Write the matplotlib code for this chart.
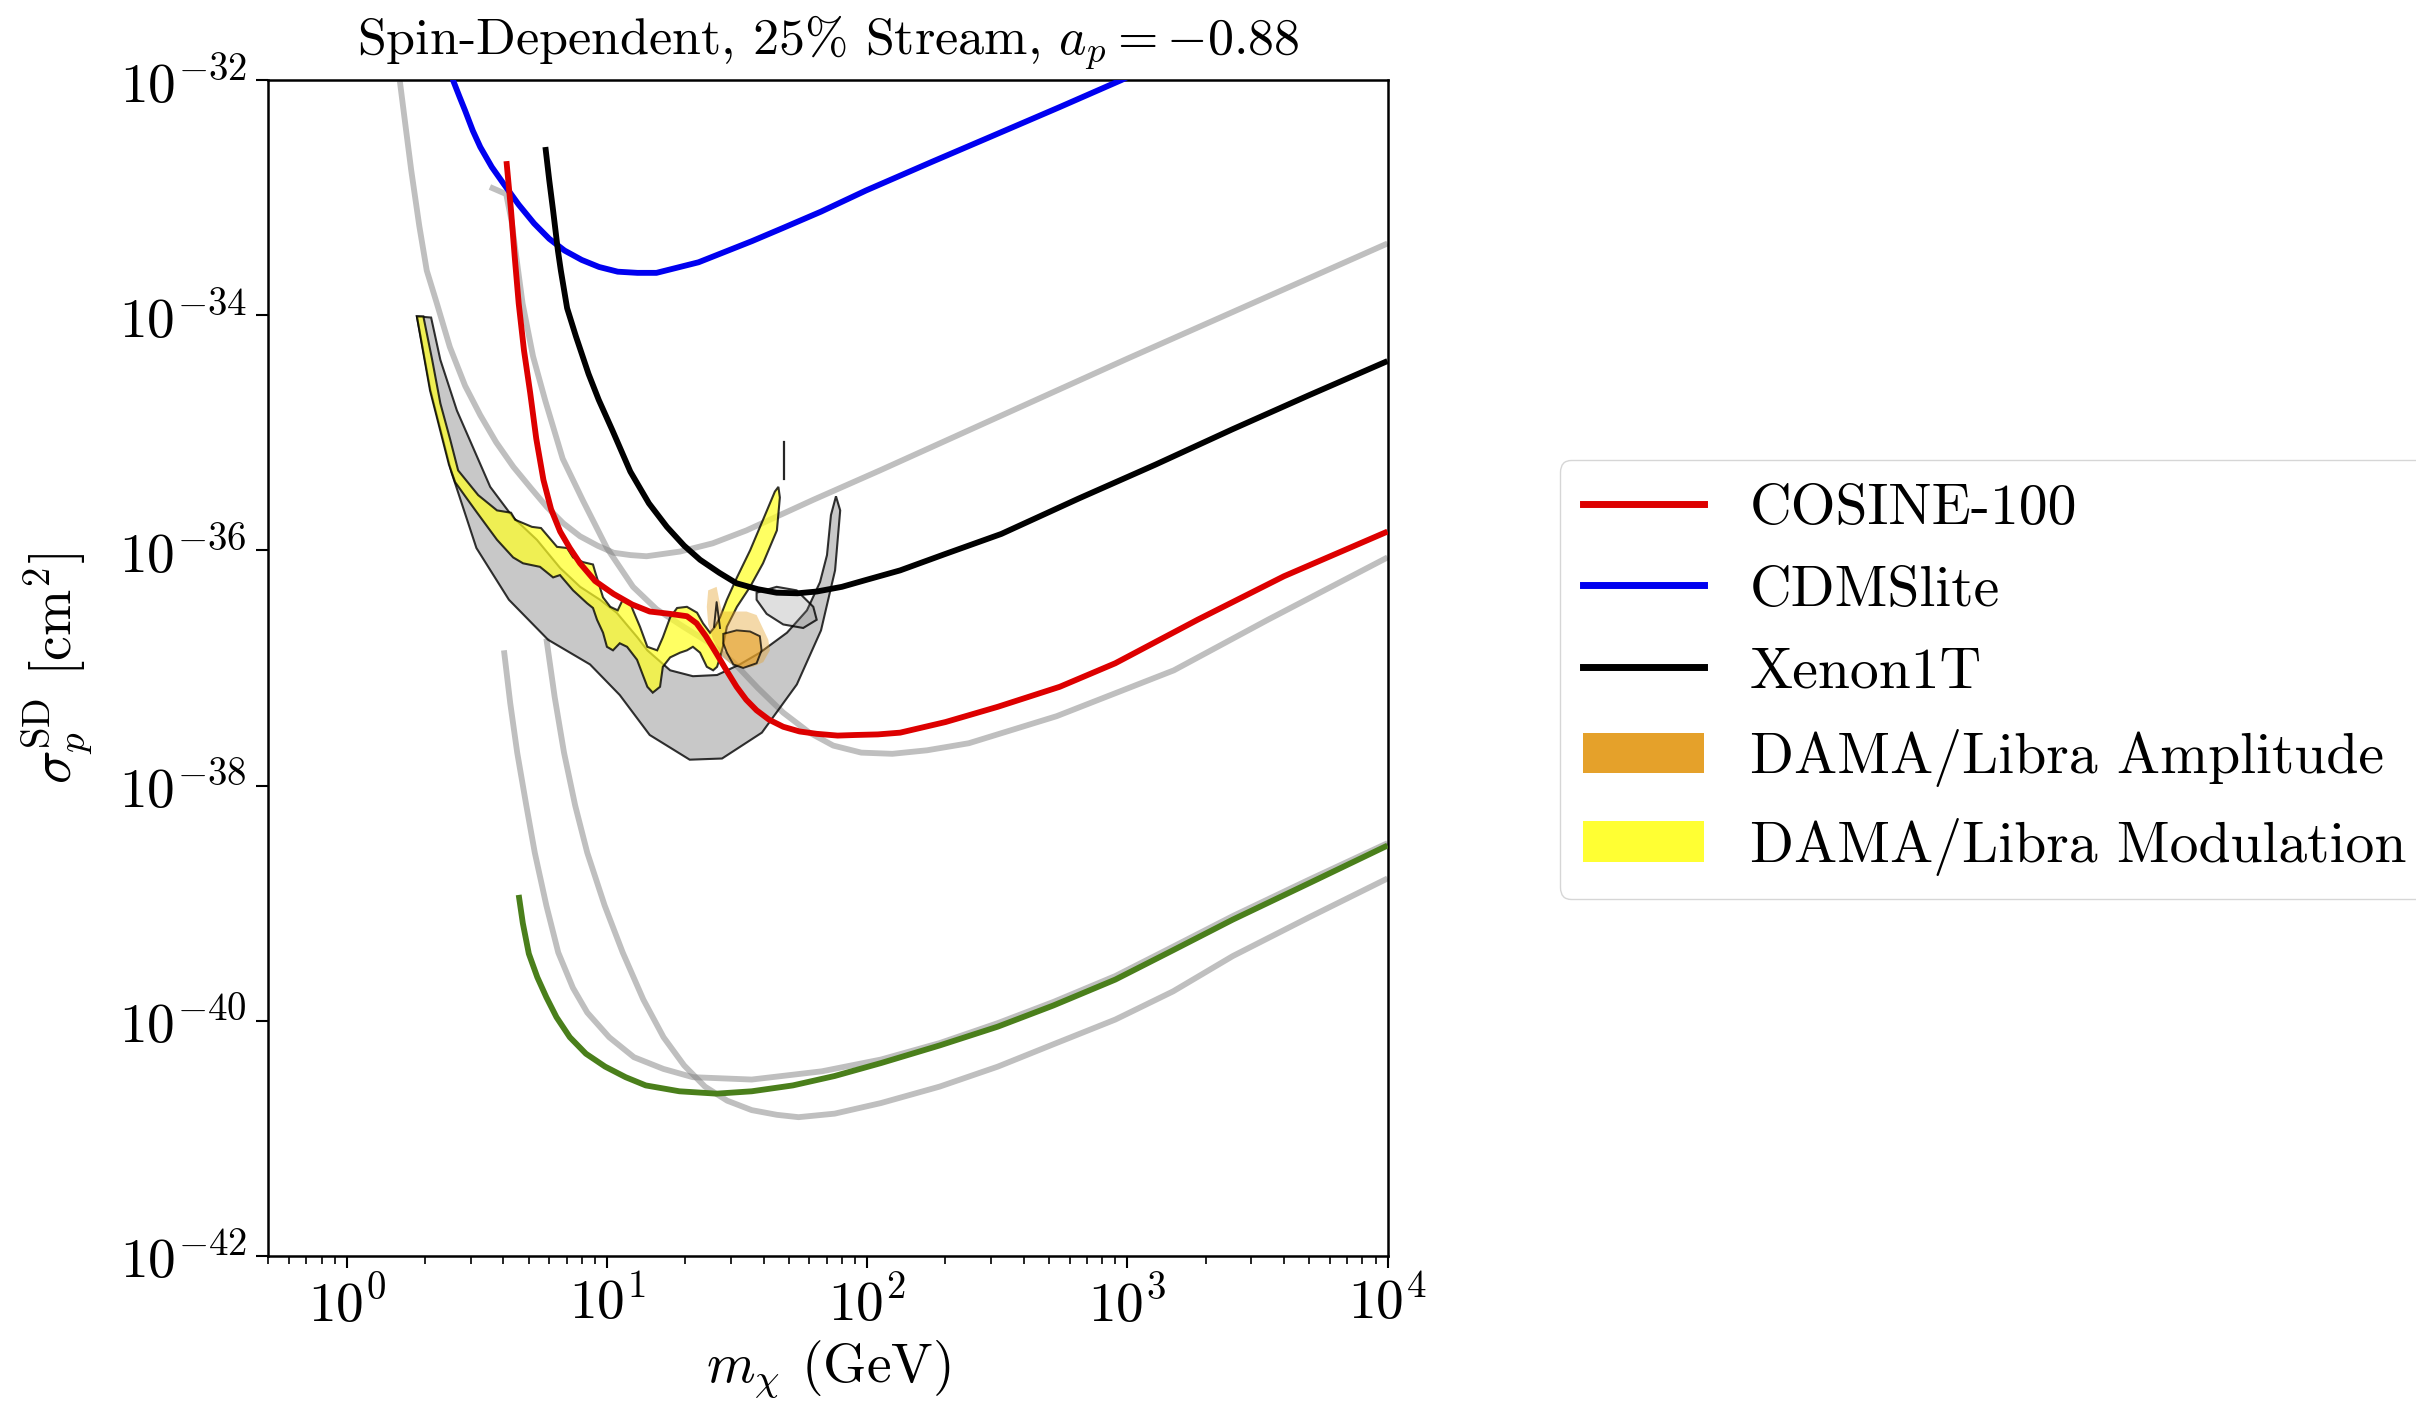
import numpy as np
import matplotlib
matplotlib.use("Agg")
import matplotlib.pyplot as plt
from matplotlib.patches import Polygon, Patch
from matplotlib.lines import Line2D
from matplotlib.ticker import NullLocator, NullFormatter, LogLocator

plt.rcParams["font.family"] = ["cmr10", "DejaVu Serif"]
plt.rcParams["mathtext.fontset"] = "cm"
plt.rcParams["axes.formatter.use_mathtext"] = True
plt.rcParams["axes.unicode_minus"] = False

# ---------------- exclusion limits: mass [GeV], log10(sigma / cm^2) ----------------
cosine_m = [4.11, 4.28, 4.42, 4.58, 4.80, 5.07, 5.35, 5.70, 6.10, 6.61, 7.20, 7.88, 9.0,
            10.6, 12.5, 14.6, 17.5, 20.3, 22.1, 24.0, 26.4, 28.8, 31.5, 34.3, 37.6, 42.0,
            47.6, 55.0, 64.0, 77.0, 90.0, 110, 134, 200, 318, 550, 899, 1862, 4000, 10000]
cosine_logs = [-32.69, -33.11, -33.50, -33.90, -34.30, -34.66, -35.05, -35.40, -35.65,
               -35.84, -35.98, -36.11, -36.26, -36.37, -36.46, -36.52, -36.54, -36.56,
               -36.62, -36.73, -36.88, -37.02, -37.16, -37.27, -37.36, -37.44, -37.50,
               -37.54, -37.56, -37.575, -37.57, -37.565, -37.55, -37.46, -37.33, -37.16,
               -36.96, -36.59, -36.22, -35.84]

cdms_m = [2.52, 2.57, 2.71, 2.85, 3.05, 3.26, 3.61, 4.0, 4.58, 5.25, 6.0, 6.87, 8.0, 9.33,
          11.0, 13.1, 15.5, 18.3, 22.5, 28.5, 36.1, 47.3, 66.4, 98.9, 180, 300, 550, 950,
          1100]
cdms_logs = [-31.95, -32.01, -32.14, -32.26, -32.43, -32.57, -32.74, -32.88, -33.06,
             -33.22, -33.35, -33.45, -33.53, -33.59, -33.63, -33.64, -33.64, -33.60,
             -33.55, -33.46, -33.37, -33.26, -33.12, -32.94, -32.69, -32.48, -32.23,
             -32.0, -31.93]

xenon_m = [5.80, 6.00, 6.21, 6.48, 6.65, 7.03, 7.60, 8.50, 9.3, 10.5, 12.3, 14.5, 17.0,
           19.8, 22.8, 27.0, 31.5, 38.0, 44.9, 54.0, 64.0, 80.0, 99.6, 134, 200, 328, 649,
           1285, 2536, 5000, 10000]
xenon_logs = [-32.57, -32.85, -33.11, -33.45, -33.62, -33.94, -34.18, -34.50, -34.72,
              -34.98, -35.33, -35.60, -35.80, -35.96, -36.08, -36.19, -36.28, -36.33,
              -36.36, -36.365, -36.35, -36.31, -36.25, -36.17, -36.03, -35.86, -35.56,
              -35.27, -34.97, -34.68, -34.39]

green_m = [4.58, 4.75, 5.01, 5.40, 5.85, 6.40, 7.2, 8.3, 9.84, 11.8, 14.1, 19.0, 26.4,
           36.0, 51.8, 75.0, 113, 190, 318, 520, 899, 1500, 2543, 5000, 10000]
green_logs = [-38.93, -39.17, -39.43, -39.63, -39.80, -39.97, -40.14, -40.28, -40.39,
              -40.48, -40.55, -40.60, -40.62, -40.60, -40.55, -40.47, -40.36, -40.21,
              -40.05, -39.87, -39.65, -39.40, -39.14, -38.83, -38.51]

# grey reference limits
grey1_m = [1.60, 1.68, 1.77, 1.90, 2.03, 2.22, 2.49, 2.85, 3.26, 3.75, 4.37, 5.10, 5.87,
           6.80, 7.88, 9.20, 10.6, 12.3, 14.2, 19.1, 25.5, 34.4, 62.1, 112, 1000, 10000]
grey1_logs = [-32.01, -32.38, -32.77, -33.24, -33.62, -33.90, -34.27, -34.60, -34.85,
              -35.08, -35.29, -35.47, -35.63, -35.77, -35.88, -35.96, -36.02, -36.04,
              -36.05, -36.01, -35.94, -35.83, -35.57, -35.32, -34.37, -33.39]

grey2_m = [3.55, 4.10, 4.30, 4.45, 4.74, 5.20, 5.80, 6.76, 8.10, 10.0, 12.6, 15.5, 19.7,
           24.5, 30.6, 38.0, 47.6, 60.0, 74.1, 95.0, 125, 170, 246, 535, 1510, 3470, 10000]
grey2_logs = [-32.91, -32.97, -33.20, -33.45, -33.90, -34.35, -34.73, -35.22, -35.58,
              -35.98, -36.31, -36.50, -36.65, -36.78, -36.95, -37.17, -37.38, -37.55,
              -37.66, -37.72, -37.73, -37.70, -37.64, -37.41, -37.02, -36.59, -36.06]

grey3_m = [4.02, 4.25, 4.52, 4.90, 5.28, 5.85, 6.50, 7.40, 8.40, 10.2, 12.7, 16.5, 21.4,
           36.0, 67.0, 113, 190, 318, 520, 899, 1500, 2543, 5000, 10000]
grey3_logs = [-36.85, -37.30, -37.72, -38.17, -38.57, -39.02, -39.42, -39.72, -39.93,
              -40.14, -40.31, -40.41, -40.48, -40.50, -40.43, -40.33, -40.19, -40.02,
              -39.84, -39.62, -39.37, -39.11, -38.80, -38.49]

grey4_m = [5.85, 6.30, 6.84, 7.55, 8.40, 9.80, 11.5, 13.8, 16.5, 19.8, 23.8, 29.0, 36.0,
           45.0, 54.5, 75.0, 113, 190, 318, 520, 899, 1500, 2543, 5000, 10000]
grey4_logs = [-36.75, -37.25, -37.72, -38.17, -38.57, -39.02, -39.42, -39.82, -40.14,
              -40.38, -40.56, -40.68, -40.76, -40.80, -40.82, -40.79, -40.70, -40.56,
              -40.39, -40.20, -39.99, -39.75, -39.45, -39.12, -38.79]

# ---------------- DAMA/LIBRA allowed regions (closed contours) ----------------
dama_grey_m = [1.86, 2.10, 2.53, 3.15, 4.20, 5.94, 8.61, 11.2, 14.6, 20.8, 27.7, 39.4,
               53.7, 66.5, 75.3, 78.8, 75.9,
               72.6, 70.1, 65.9, 58.7, 49.2, 38.7, 32.4, 26.5, 21.4, 17.5, 14.3, 13.1,
               10.9, 9.41, 7.89, 6.61, 5.38, 4.36, 3.56, 2.65, 2.29, 2.11]
dama_grey_logs = [-34.01, -34.64, -35.34, -35.98, -36.42, -36.76, -36.97, -37.23, -37.57,
                  -37.78, -37.77, -37.55, -37.14, -36.68, -36.17, -35.66, -35.54,
                  -35.70, -36.04, -36.27, -36.51, -36.70, -36.87, -36.97, -37.06, -37.07,
                  -37.02, -36.85, -36.74, -36.53, -36.42, -36.31, -36.15, -35.91, -35.72,
                  -35.46, -34.81, -34.38, -34.02]

mod_m = [1.86, 2.09, 2.47, 2.61, 2.875, 3.17, 3.78, 4.36, 4.76, 5.53, 6.21, 6.60, 7.41,
         8.39, 8.84, 9.16, 9.66, 10.0, 10.55, 11.2, 11.95, 13.05, 14.3, 15.0, 16.0, 16.4,
         17.5, 19.1, 20.3, 21.4, 22.8, 24.2, 25.6, 26.5, 27.2, 27.9,
         28.9, 31.6, 35.5, 39.8, 45.0, 46.2, 45.6,
         44.2, 39.8, 35.5, 31.6, 28.9, 27.2, 26.0,
         24.9, 23.4, 22.2, 20.3, 18.6, 17.5, 16.4, 15.6, 14.3, 13.4, 12.6, 12.3, 11.5,
         11.0, 10.3, 9.66, 9.0, 8.84, 8.09, 7.41, 7.03, 6.43, 5.58, 5.15, 4.44, 4.28,
         3.78, 3.20, 2.68, 2.50, 2.29, 2.13, 1.97]
mod_logs = [-34.01, -34.64, -35.27, -35.42, -35.55, -35.68, -35.91, -36.06, -36.11, -36.14,
            -36.23, -36.21, -36.34, -36.45, -36.49, -36.59, -36.70, -36.82, -36.85, -36.79,
            -36.82, -36.93, -37.16, -37.21, -37.16, -36.99, -36.91, -36.87, -36.85, -36.82,
            -36.87, -36.99, -37.02, -36.99, -36.91, -36.82,
            -36.65, -36.48, -36.31, -36.11, -35.83, -35.55, -35.46,
            -35.50, -35.74, -36.00, -36.23, -36.42, -36.57, -36.65,
            -36.70, -36.62, -36.53, -36.48, -36.49, -36.57, -36.74, -36.85, -36.82, -36.65,
            -36.51, -36.45, -36.42, -36.51, -36.48, -36.40, -36.18, -36.12, -36.10, -36.06,
            -35.98, -35.97, -35.81, -35.80, -35.74, -35.68, -35.66, -35.53, -35.32, -35.06,
            -34.75, -34.38, -34.01]

amp_wide_m = [24.5, 26.4, 27.0, 27.7, 31.1, 34.4, 37.6, 41.7, 42.3, 39.9, 36.5, 32.9,
              29.7, 27.6, 25.6, 24.5, 24.2]
amp_wide_logs = [-36.34, -36.31, -36.42, -36.52, -36.52, -36.52, -36.55, -36.76, -36.85,
                 -36.95, -36.99, -37.00, -36.96, -36.89, -36.76, -36.63, -36.48]

amp_core_m = [28.0, 31.5, 35.5, 38.7, 39.3, 37.6, 33.4, 30.6, 28.9, 28.0]
amp_core_logs = [-36.71, -36.68, -36.69, -36.73, -36.85, -36.96, -37.00, -36.97, -36.87,
                 -36.79]

amp_spike_m = [25.8, 26.4, 27.2]
amp_spike_logs = [-36.65, -36.44, -36.66]

small_m = [37.6, 44.9, 53.6, 62.1, 64.0, 56.8, 47.6, 41.1, 37.6]
small_logs = [-36.36, -36.31, -36.34, -36.48, -36.59, -36.66, -36.63, -36.54, -36.42]

tick_m = [47.8, 47.8]
tick_logs = [-35.08, -35.39]

x_ticks = [1e0, 1e1, 1e2, 1e3, 1e4]
x_labels = [r"$10^{0}$", r"$10^{1}$", r"$10^{2}$", r"$10^{3}$", r"$10^{4}$"]
y_ticks = [1e-42, 1e-40, 1e-38, 1e-36, 1e-34, 1e-32]
y_labels = [r"$10^{-42}$", r"$10^{-40}$", r"$10^{-38}$", r"$10^{-36}$", r"$10^{-34}$",
            r"$10^{-32}$"]

legend_names = ["COSINE-100", "CDMSlite", "Xenon1T", "DAMA/Libra Amplitude",
                "DAMA/Libra Modulation"]


def sig(logs):
    return 10.0 ** np.asarray(logs, dtype=float)


def region(m, logs):
    return np.column_stack([np.asarray(m, dtype=float), sig(logs)])


FS = 40
fig = plt.figure(figsize=(24.16, 14.11), dpi=100)
ax = fig.add_axes([0.1111, 0.1099, 0.4632, 0.8334])
ax.set_xscale("log")
ax.set_yscale("log")

grey_kw = dict(color="gray", alpha=0.5, lw=4.2, solid_capstyle="butt",
               solid_joinstyle="round", zorder=2)
for m, s in [(grey1_m, grey1_logs), (grey2_m, grey2_logs),
             (grey3_m, grey3_logs), (grey4_m, grey4_logs)]:
    ax.plot(m, sig(s), **grey_kw)

ax.add_patch(Polygon(region(dama_grey_m, dama_grey_logs), closed=True,
                     facecolor=(0.5, 0.5, 0.5, 0.43), edgecolor=(0, 0, 0, 0.8),
                     lw=1.5, zorder=3))
ax.add_patch(Polygon(region(mod_m, mod_logs), closed=True,
                     facecolor=(1.0, 1.0, 0.15, 0.72), edgecolor=(0, 0, 0, 0.8),
                     lw=1.5, zorder=4))
ax.add_patch(Polygon(region(small_m, small_logs), closed=True,
                     facecolor=(0.5, 0.5, 0.5, 0.25), edgecolor=(0, 0, 0, 0.8),
                     lw=1.5, zorder=4))
ax.add_patch(Polygon(region(amp_wide_m, amp_wide_logs), closed=True,
                     facecolor=(0.898, 0.631, 0.165, 0.40), edgecolor="none", zorder=5))
ax.add_patch(Polygon(region(amp_core_m, amp_core_logs), closed=True,
                     facecolor=(0.898, 0.631, 0.165, 0.62), edgecolor=(0, 0, 0, 0.75),
                     lw=1.4, zorder=6))
ax.plot(amp_spike_m, sig(amp_spike_logs), color="k", lw=1.4, alpha=0.8, zorder=6)
ax.plot(tick_m, sig(tick_logs), color="k", lw=1.6, alpha=0.85, zorder=6)

line_kw = dict(lw=4.2, solid_capstyle="butt", solid_joinstyle="round")
ax.plot(green_m, sig(green_logs), color="#4a7f1b", zorder=7, **line_kw)
ax.plot(cdms_m, sig(cdms_logs), color="#0000f0", zorder=7, **line_kw)
ax.plot(xenon_m, sig(xenon_logs), color="black", zorder=8, **line_kw)
ax.plot(cosine_m, sig(cosine_logs), color="#dd0000", zorder=9, **line_kw)

ax.set_xlim(0.5, 1e4)
ax.set_ylim(1e-42, 1e-32)
ax.set_xticks(x_ticks, labels=x_labels)
ax.set_yticks(y_ticks, labels=y_labels)
ax.xaxis.set_minor_locator(LogLocator(base=10, subs=np.arange(2, 10), numticks=30))
ax.xaxis.set_minor_formatter(NullFormatter())
ax.yaxis.set_minor_locator(NullLocator())
ax.tick_params(which="major", length=8.5, width=1.5, labelsize=FS, pad=7)
ax.tick_params(which="minor", length=5.5, width=1.2)
for sp in ax.spines.values():
    sp.set_linewidth(1.8)

ax.set_title(r"Spin-Dependent, 25% Stream, $a_p = -0.88$", fontsize=37.5, pad=18.5)
ax.set_xlabel(r"$m_\chi$ (GeV)", fontsize=FS, labelpad=4)
ax.set_ylabel(r"$\sigma_p^{\rm SD}$ [cm$^2$]", fontsize=FS)
ax.yaxis.set_label_coords(-0.155, 0.5)

handles = [Line2D([], [], color="#dd0000", lw=5),
           Line2D([], [], color="#0000f0", lw=5),
           Line2D([], [], color="black", lw=5),
           Patch(facecolor="#e5a12a", edgecolor="none"),
           Patch(facecolor="#ffff33", edgecolor="none")]
fig.legend(handles, legend_names, loc="center left", bbox_to_anchor=(0.6336, 0.5184),
           bbox_transform=fig.transFigure, fontsize=41.5, handlelength=2.1,
           handletextpad=0.8, borderpad=0.4, labelspacing=0.53, frameon=True)

fig.savefig("out.png", dpi=100)
